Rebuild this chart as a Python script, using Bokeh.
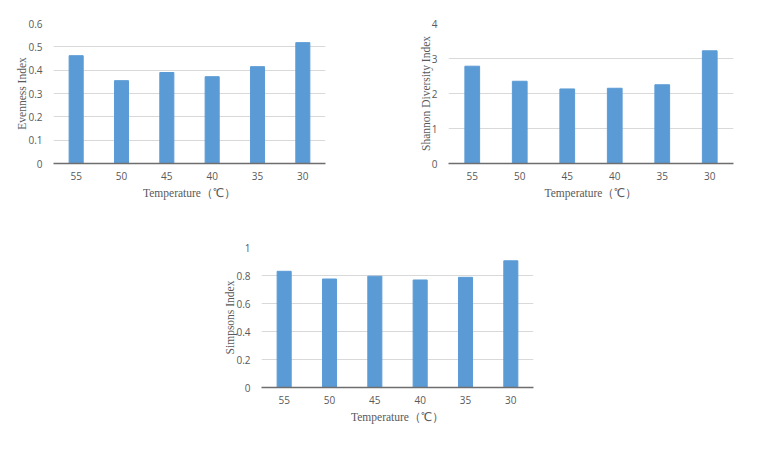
from bokeh.plotting import figure
from bokeh.layouts import row, column
from bokeh.models import Spacer, FixedTicker, CustomJSTickFormatter, FactorRange, Range1d
from bokeh.embed import file_html
from bokeh.resources import INLINE

temps = ["55", "50", "45", "40", "35", "30"]
evenness = [0.462, 0.355, 0.390, 0.372, 0.415, 0.518]
shannon = [2.78, 2.35, 2.13, 2.15, 2.25, 3.22]
simpsons = [0.830, 0.775, 0.795, 0.768, 0.787, 0.905]

even_ticks = [0, 0.1, 0.2, 0.3, 0.4, 0.5, 0.6]
shannon_ticks = [0, 1, 2, 3, 4]
simp_ticks = [0, 0.2, 0.4, 0.6, 0.8, 1.0]

x_title = "Temperature（℃）"

BAR = "#5B9BD5"
GRID = "#D9D9D9"
TXT = "#595959"


def make(values, ticks, ymax, ytitle, width, height, bl, br, bt, bb):
    p = figure(x_range=FactorRange(*temps, range_padding=0), y_range=Range1d(0, ymax),
               width=width, height=height, output_backend="svg", toolbar_location=None,
               min_border_left=bl, min_border_right=br, min_border_top=bt, min_border_bottom=bb)
    p.vbar(x=temps, top=values, width=0.31, color=BAR)
    p.outline_line_color = None
    p.background_fill_color = "white"
    p.border_fill_color = "white"
    p.yaxis.ticker = FixedTicker(ticks=ticks)
    p.yaxis.formatter = CustomJSTickFormatter(code="return String(Math.round(tick*10)/10);")
    p.yaxis.axis_line_color = None
    p.yaxis.major_tick_line_color = None
    p.yaxis.minor_tick_line_color = None
    p.xaxis.major_tick_line_color = None
    p.xaxis.minor_tick_line_color = None
    p.xaxis.axis_line_color = "#6E6E6E"
    p.xaxis.axis_line_width = 1.3
    p.ygrid.ticker = FixedTicker(ticks=ticks)
    p.ygrid.grid_line_color = GRID
    p.xgrid.grid_line_color = None
    for ax in (p.xaxis, p.yaxis):
        ax.major_label_text_font = "Open Sans"
        ax.major_label_text_font_size = "10px"
        ax.major_label_text_color = TXT
        ax.axis_label_text_font = "Liberation Serif"
        ax.axis_label_text_font_size = "11.5px"
        ax.axis_label_text_font_style = "normal"
        ax.axis_label_text_color = TXT
    p.xaxis.axis_label = x_title
    p.yaxis.axis_label = ytitle
    p.xaxis.major_label_standoff = 2
    p.xaxis.axis_label_standoff = 4
    p.yaxis.major_label_standoff = 5
    p.yaxis.axis_label_standoff = -3
    return p


p1 = make(evenness, even_ticks, 0.6, "Evenness Index", 380, 205, 53, 55, 23, 42)
p2 = make(shannon, shannon_ticks, 4, "Shannon Diversity Index", 393, 205, 68, 40, 23, 41)
p3 = make(simpsons, simp_ticks, 1.0, "Simpsons Index", 363, 222, 61, 30, 42, 40)

layout = column(row(p1, p2, spacing=0), row(Spacer(width=200, height=222), p3, spacing=0), spacing=0)

open("out.html", "w").write(file_html(layout, INLINE))
